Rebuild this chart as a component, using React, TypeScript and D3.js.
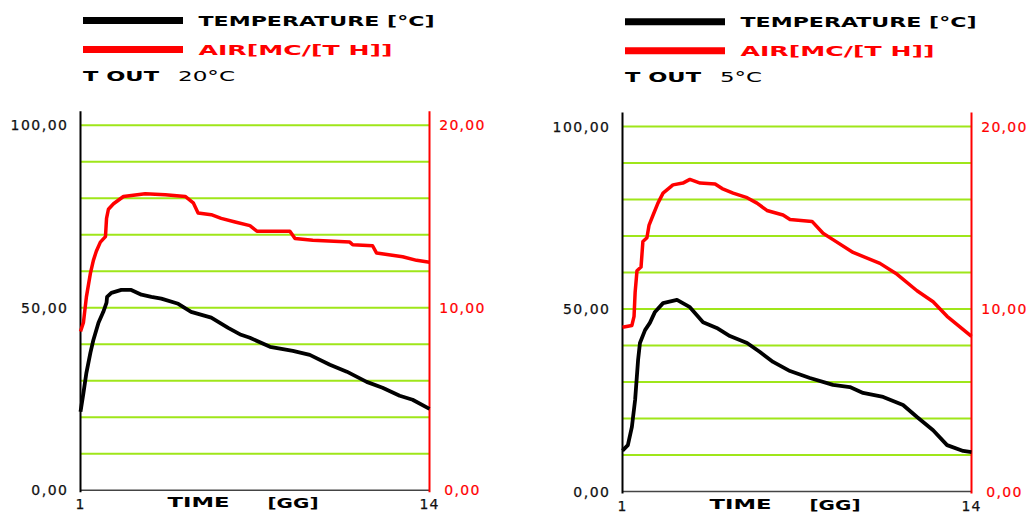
import React from "react";
import * as d3 from "d3";

// ---------- data ----------
const DAY_DOMAIN: [number, number] = [1, 14];
const X_TICKS = [1, 14];
const TEMP_DOMAIN: [number, number] = [0, 100];
const AIR_DOMAIN: [number, number] = [0, 20];
const TEMP_TICKS = [0, 50, 100];
const TEMP_TICK_LABELS = ["0,00", "50,00", "100,00"];
const AIR_TICKS = [0, 10, 20];
const AIR_TICK_LABELS = ["0,00", "10,00", "20,00"];
const GRID_VALUES = [10, 20, 30, 40, 50, 60, 70, 80, 90, 100];

const LEGEND_TEMP = "TEMPERATURE [°C]";
const LEGEND_AIR = "AIR[MC/[T H]]";
const X_TITLE = "TIME";
const X_UNIT = "[GG]";
const TOUT_LABEL = "T OUT";
const TOUT_VALUES = ["20°C", "5°C"];

// [day, °C]
const tempLeft: [number, number][] = [
  [1.0, 21.5], [1.11, 26.7], [1.22, 32.2], [1.37, 37.7], [1.48, 41.2], [1.67, 45.9],
  [1.85, 48.9], [1.97, 51.4], [1.99, 53.0], [2.15, 54.1], [2.52, 54.9], [2.89, 54.9],
  [3.27, 53.6], [3.64, 53.0], [4.01, 52.5], [4.64, 51.1], [5.12, 48.9], [5.87, 47.3],
  [6.5, 44.5], [6.98, 42.6], [7.31, 41.8], [8.06, 39.3], [8.91, 38.2], [9.54, 37.1],
  [10.29, 34.4], [10.92, 32.5], [11.66, 29.7], [12.25, 28.1], [12.89, 25.9],
  [13.37, 24.8], [14.0, 22.3],
];
// [day, m³/h]
const airLeft: [number, number][] = [
  [1.0, 8.7], [1.11, 9.2], [1.22, 10.6], [1.37, 11.9], [1.48, 12.6], [1.59, 13.1],
  [1.74, 13.6], [1.93, 13.9], [1.97, 14.9], [2.04, 15.4], [2.23, 15.7], [2.6, 16.1],
  [3.41, 16.25], [4.16, 16.2], [4.9, 16.1], [5.2, 15.75], [5.38, 15.2], [5.87, 15.1],
  [6.24, 14.9], [6.76, 14.7], [7.31, 14.5], [7.57, 14.2], [8.8, 14.2], [8.99, 13.8],
  [9.65, 13.7], [11.03, 13.6], [11.14, 13.45], [11.88, 13.4], [12.03, 13.0],
  [13.0, 12.8], [13.52, 12.6], [14.0, 12.5],
];
const tempRight: [number, number][] = [
  [1.0, 11.2], [1.2, 12.7], [1.35, 17.7], [1.47, 25.1], [1.58, 36.0], [1.65, 40.7],
  [1.84, 44.2], [2.02, 46.2], [2.21, 49.2], [2.51, 51.6], [3.03, 52.5], [3.51, 50.5],
  [4.0, 46.4], [4.51, 44.8], [5.0, 42.6], [5.64, 40.7], [6.12, 38.2], [6.61, 35.5],
  [7.24, 33.0], [7.98, 31.1], [8.84, 29.2], [9.47, 28.6], [9.96, 27.0], [10.71, 25.9],
  [11.45, 23.7], [11.97, 20.4], [12.57, 16.8], [13.09, 12.7], [13.69, 11.1], [14.0, 10.8],
];
const airRight: [number, number][] = [
  [1.0, 9.0], [1.35, 9.1], [1.43, 9.6], [1.47, 10.9], [1.54, 12.1], [1.69, 12.3],
  [1.76, 13.7], [1.91, 13.9], [1.99, 14.6], [2.14, 15.15], [2.32, 15.8], [2.51, 16.35],
  [2.88, 16.8], [3.25, 16.9], [3.51, 17.1], [3.89, 16.9], [4.45, 16.85], [4.71, 16.6],
  [5.12, 16.35], [5.64, 16.1], [6.01, 15.8], [6.38, 15.4], [6.61, 15.3], [6.98, 15.15],
  [7.24, 14.9], [8.06, 14.8], [8.47, 14.15], [8.84, 13.8], [9.59, 13.1], [10.59, 12.5],
  [11.23, 11.9], [11.97, 11.0], [12.57, 10.4], [13.09, 9.6], [14.0, 8.5],
];

const FONT = "'DejaVu Sans', Verdana, sans-serif";
const GRID_COLOR = "#9fe61a";

type PanelProps = {
  left: number;
  right: number;
  top: number;
  bottom: number;
  temp: [number, number][];
  air: [number, number][];
  tout: string;
  toutWidth: number;
};

function Panel({ left, right, top, bottom, temp, air, tout, toutWidth }: PanelProps) {
  const x = d3.scaleLinear().domain(DAY_DOMAIN).range([left, right]);
  const yT = d3.scaleLinear().domain(TEMP_DOMAIN).range([bottom, top]);
  const yA = d3.scaleLinear().domain(AIR_DOMAIN).range([bottom, top]);
  const lineT = d3.line<[number, number]>().x((d) => x(d[0])).y((d) => yT(d[1]));
  const lineA = d3.line<[number, number]>().x((d) => x(d[0])).y((d) => yA(d[1]));
  const dy = top - 125.3;

  return (
    <g>
      {/* legend */}
      <line x1={left + 2.5} x2={left + 102.5} y1={20.5 + dy} y2={20.5 + dy} stroke="#000" strokeWidth={7} />
      <line x1={left + 2.5} x2={left + 102.5} y1={49.5 + dy} y2={49.5 + dy} stroke="#ff0000" strokeWidth={7} />
      <text x={left + 118} y={25.5 + dy} fontFamily={FONT} fontWeight="bold" fontSize={14}
        textLength={236} lengthAdjust="spacingAndGlyphs" fill="#000">{LEGEND_TEMP}</text>
      <text x={left + 118} y={54.5 + dy} fontFamily={FONT} fontWeight="bold" fontSize={14}
        textLength={194} lengthAdjust="spacingAndGlyphs" fill="#ff0000">{LEGEND_AIR}</text>
      <text x={left + 2.5} y={81 + dy} fontFamily={FONT} fontWeight="bold" fontSize={14}
        textLength={76} lengthAdjust="spacingAndGlyphs" fill="#000">{TOUT_LABEL}</text>
      <text x={left + 97.5} y={81 + dy} fontFamily={FONT} fontSize={14}
        textLength={toutWidth} lengthAdjust="spacingAndGlyphs" fill="#000">{tout}</text>

      {/* grid */}
      {GRID_VALUES.map((v) => (
        <line key={v} x1={left} x2={right} y1={yT(v)} y2={yT(v)} stroke={GRID_COLOR} strokeWidth={2} />
      ))}

      {/* bottom axis */}
      <line x1={left} x2={right} y1={bottom} y2={bottom} stroke="#444" strokeWidth={1.5} />
      {/* left axis */}
      <line x1={left} x2={left} y1={top - 14} y2={bottom + 2} stroke="#000" strokeWidth={2} />
      {/* right axis */}
      <line x1={right} x2={right} y1={top - 14} y2={bottom + 2} stroke="#ff0000" strokeWidth={2} />

      {TEMP_TICKS.map((v, i) => (
        <text key={v} x={left - 12} y={yT(v) + 5} textAnchor="end" fontFamily={FONT}
          fontSize={14} letterSpacing={1.5} stroke="#111" strokeWidth={0.25} fill="#111">{TEMP_TICK_LABELS[i]}</text>
      ))}
      {AIR_TICKS.map((v, i) => (
        <text key={v} x={right + 33} y={yA(v) + 5} textAnchor="middle" fontFamily={FONT}
          fontSize={14} letterSpacing={1.3} stroke="#ff0000" strokeWidth={0.2} fill="#ff0000">{AIR_TICK_LABELS[i]}</text>
      ))}

      {X_TICKS.map((t) => (
        <text key={t} x={x(t)} y={bottom + 19} textAnchor="middle" fontFamily={FONT}
          fontSize={14} letterSpacing={1} stroke="#111" strokeWidth={0.25} fill="#111">{t}</text>
      ))}
      <text x={left + 87} y={bottom + 17} fontFamily={FONT} fontWeight="bold" fontSize={14}
        textLength={62} lengthAdjust="spacingAndGlyphs" fill="#000">{X_TITLE}</text>
      <text x={left + 187} y={bottom + 18} fontFamily={FONT} fontWeight="bold" fontSize={14}
        textLength={51} lengthAdjust="spacingAndGlyphs" fill="#000">{X_UNIT}</text>

      {/* series */}
      <path d={lineA(air) ?? ""} fill="none" stroke="#ff0000" strokeWidth={3.5} strokeLinejoin="round" />
      <path d={lineT(temp) ?? ""} fill="none" stroke="#000" strokeWidth={3.8} strokeLinejoin="round" />
    </g>
  );
}

export default function App() {
  return (
    <svg width={1030} height={512} style={{ position: "absolute", left: 0, top: 0, background: "#fff" }}>
      <rect x={0} y={0} width={1030} height={512} fill="#fff" />
      <Panel left={80.5} right={429.5} top={125.3} bottom={490.3} temp={tempLeft} air={airLeft}
        tout={TOUT_VALUES[0]} toutWidth={57} />
      <Panel left={622.5} right={971.5} top={126.5} bottom={491.5} temp={tempRight} air={airRight}
        tout={TOUT_VALUES[1]} toutWidth={42} />
    </svg>
  );
}
